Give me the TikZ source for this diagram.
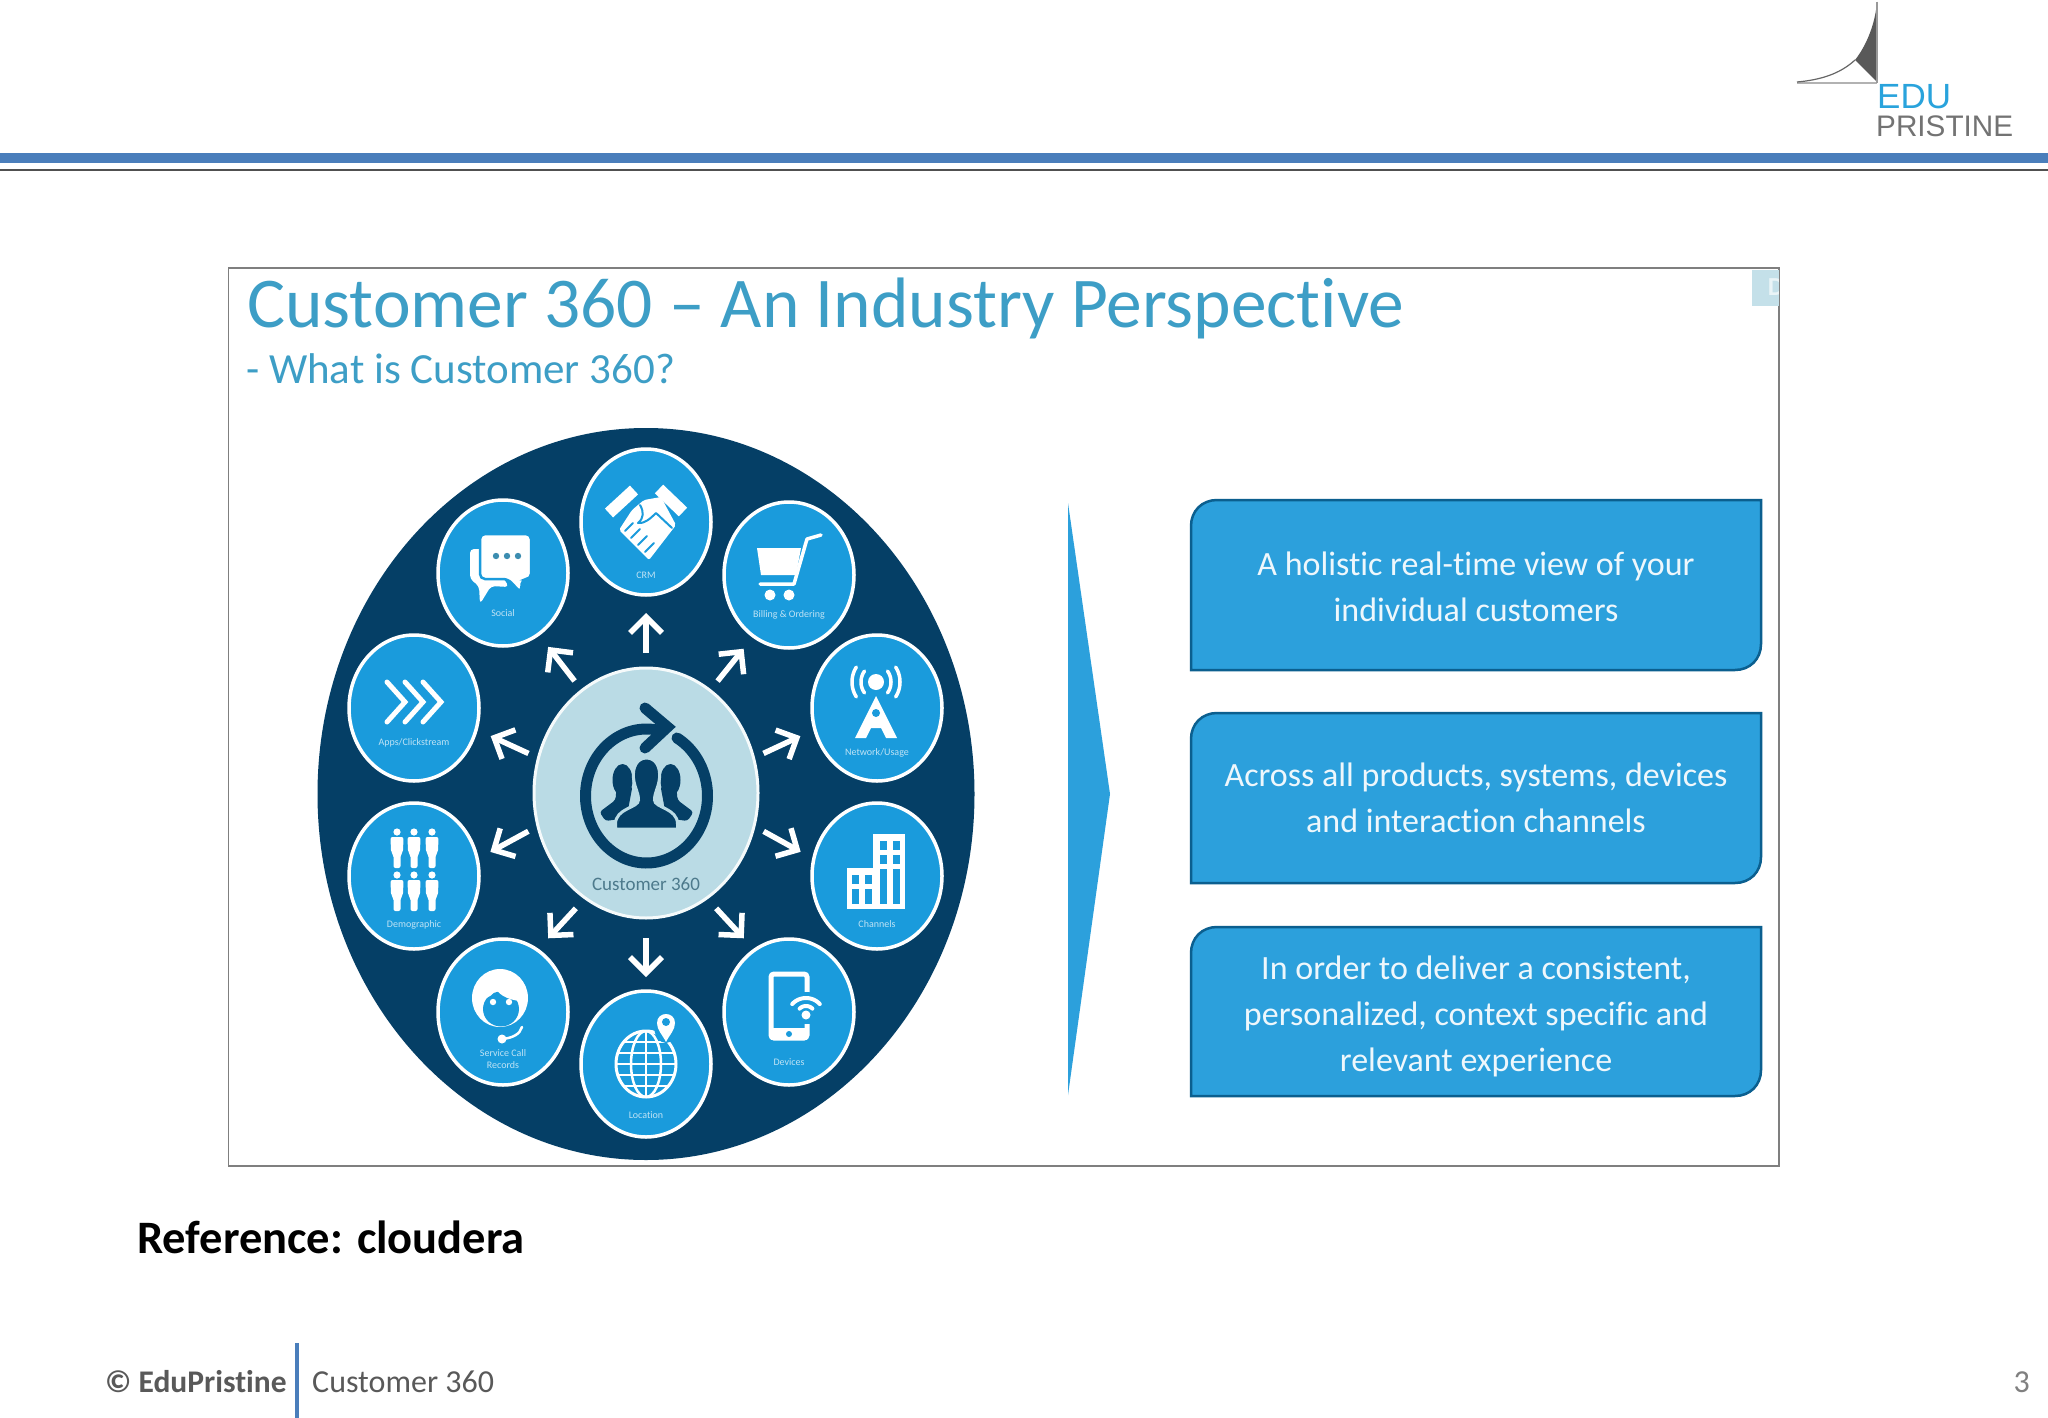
\documentclass[tikz,border=0pt]{standalone}
\usepackage{fontspec}
\setmainfont[Ligatures=NoCommon]{Carlito}
\newfontfamily\logofont{Liberation Sans}
\usetikzlibrary{shapes.geometric,arrows.meta}
\definecolor{navy}{HTML}{053F66}
\definecolor{satblue}{HTML}{1A9BDC}
\definecolor{boxblue}{HTML}{2CA0DC}
\definecolor{boxedge}{HTML}{0B5F8F}
\definecolor{hub}{HTML}{BADBE5}
\definecolor{titleblue}{HTML}{3D9EC6}
\definecolor{hdrblue}{HTML}{4A7EBB}
\definecolor{framegray}{HTML}{7F7F7F}
\definecolor{foot}{HTML}{595959}
\definecolor{logoblue}{HTML}{29A3DC}
\definecolor{labblue}{HTML}{BFE3F5}
\definecolor{hubtext}{HTML}{4D7A8C}
\definecolor{dotblue}{HTML}{3C8DB0}
\tikzset{
  sat/.style={ellipse,draw=white,fill=satblue,line width=3.5pt,minimum width=130pt,minimum height=146pt,inner sep=0pt,outer sep=0pt},
  hubnode/.style={ellipse,fill=hub,draw=white!85!hub,line width=3pt,minimum width=224pt,minimum height=250pt,inner sep=0pt,outer sep=0pt},
  arr/.style={draw=white,line width=5.5pt,-{Straight Barb[length=16pt,width=32pt,line width=5.5pt]}},
  lab/.style={text=labblue,font=\fontsize{10}{11}\selectfont,inner sep=0pt,align=center},
  boxshape/.style={fill=boxblue,draw=boxedge,line width=2.5pt},
  boxtext/.style={text=white!92!boxblue,font=\fontsize{34}{46}\selectfont,align=center,inner sep=0pt},
  ico/.style={draw=white,line width=3.5pt,line cap=round,line join=round},
  icoblue/.style={draw=satblue,line width=2pt,line cap=round,line join=round},
  dempers/.pic={
    \fill[white] (0,0) circle[radius=3.6];
    \fill[white,rounded corners=2pt] (-6.5,5) -- (6.5,5) -- (6,20) -- (3.5,23) -- (3.5,36) -- (-3.5,36) -- (-3.5,23) -- (-6,20) -- cycle;
  }
}
\begin{document}
\begin{tikzpicture}[x=1pt,y=-1pt]
\useasboundingbox (0,0) rectangle (2048,1418);
\fill[white] (0,0) rectangle (2048,1418);
% header
\fill[hdrblue] (0,153) rectangle (2048,163);
\fill[foot!90!black] (0,169) rectangle (2048,171);
% logo
\fill[black!65] (1855,60) .. controls (1866,46) and (1875,25) .. (1877,2) -- (1877,82) -- cycle;
\draw[black!30,line width=2pt] (1797,83) -- (1877,83);
\draw[black!40,line width=1.5pt] (1877,2) -- (1877,83);
\draw[black!60,line width=1.2pt] (1797,82) .. controls (1820,80) and (1840,74) .. (1855,60);
\node[anchor=west,inner sep=0pt,text=logoblue] (logoedu) at (1877,97) {\logofont\fontsize{35}{35}\selectfont EDU};
\node[anchor=west,inner sep=0pt,text=black!55] (logopri) at (1876,126) {\logofont\fontsize{29.7}{31}\selectfont PRISTINE};
% frame
\draw[framegray,line width=1.3pt] (228.5,268) rectangle (1779,1166);
\fill[hub!85!white] (1752,270) rectangle (1778.5,306);
\begin{scope}
\clip (1752,270) rectangle (1778.5,306);
\node[text=white!70!hub,inner sep=0pt,font=\fontsize{26}{26}\selectfont\bfseries] (tag) at (1776,287) {D};
\end{scope}
% titles
\node[anchor=base west,inner sep=0pt,text=titleblue,font=\fontsize{71.4}{72}\selectfont] (title) at (247,327) {Customer 360 – An Industry Perspective};
\node[anchor=base west,inner sep=0pt,text=titleblue,font=\fontsize{43}{44}\selectfont] (subtitle) at (246,383) {- What is Customer 360?};
% wheel
\fill[navy] (646,794) ellipse[x radius=328.5,y radius=366];
\node[hubnode] (hub) at (646,793) {};
\node[sat] (crm) at (646,522) {};
\node[sat] (billing) at (789,575) {};
\node[sat] (network) at (877,708) {};
\node[sat] (channels) at (877,876) {};
\node[sat] (devices) at (789,1012) {};
\node[sat] (location) at (646,1064) {};
\node[sat] (service) at (503,1012) {};
\node[sat] (demo) at (414,876) {};
\node[sat] (apps) at (414,708) {};
\node[sat] (social) at (503,573) {};
% arrows
\draw[arr,shorten <=15pt,shorten >=18pt] (hub.90) -- (crm.270);
\draw[arr,shorten <=12pt,shorten >=16pt] (hub.58) -- (billing.240);
\draw[arr,shorten <=11pt,shorten >=16pt] (hub.18) -- (network.199);
\draw[arr,shorten <=11pt,shorten >=15pt] (hub.-17) -- (channels.165);
\draw[arr,shorten <=14pt,shorten >=16pt] (hub.-60) -- (devices.119);
\draw[arr,shorten <=20pt,shorten >=14pt] (hub.-90) -- (location.90);
\draw[arr,shorten <=14pt,shorten >=16pt] (hub.240) -- (service.61);
\draw[arr,shorten <=11pt,shorten >=15pt] (hub.197) -- (demo.15);
\draw[arr,shorten <=11pt,shorten >=16pt] (hub.162) -- (apps.-19);
\draw[arr,shorten <=12pt,shorten >=16pt] (hub.122) -- (social.300);
% hub icon
\begin{scope}[shift={(646.5,796)}]
  \draw[navy,line width=11pt,line cap=round] plot[domain=60:-285,samples=120] ({61*cos(\x)},{-67*sin(\x)});
  \draw[navy,line width=11pt,line cap=round,line join=miter] (-1.5,-88) -- (21,-69) -- (-1.5,-48);
  \fill[navy,rounded corners=3pt] (-30,-8) -- (-31,4) -- (-47,16) -- (-41,25) -- (-20,22) -- (-14,-10) -- cycle;
  \fill[navy,rounded corners=3pt] (30,-8) -- (31,4) -- (47,16) -- (41,25) -- (20,22) -- (14,-10) -- cycle;
  \fill[navy] (-24,-16) ellipse[x radius=10,y radius=16];
  \fill[navy] (24,-16) ellipse[x radius=10,y radius=16];
  \filldraw[fill=navy,draw=hub,line width=3pt] (0,-38) .. controls (10,-38) and (14,-28) .. (13,-18) .. controls (12,-8) and (8,-4) .. (8,4) .. controls (8,12) and (31,12) .. (31,28) -- (31,33) -- (-31,33) -- (-31,28) .. controls (-31,12) and (-8,12) .. (-8,4) .. controls (-8,-4) and (-12,-8) .. (-13,-18) .. controls (-14,-28) and (-10,-38) .. (0,-38) -- cycle;
\end{scope}
\node[inner sep=0pt,text=hubtext,font=\fontsize{19}{20}\selectfont] (hublab) at (646,884) {Customer 360};
% CRM
\begin{scope}[shift={(crm)}]
  \draw[white,line width=12pt] (-37,-9) -- (-12,-32);
  \draw[white,line width=12pt] (13,-33) -- (37,-10);
  \fill[white,rounded corners=2pt] (-27,8) -- (-14,-12) -- (-2,-22) -- (15,-25) -- (30,3) -- (3,38) -- cycle;
  \draw[icoblue] (-6,-17) .. controls (-2,-10) and (-2,-4) .. (-8,1) .. controls (-2,2) and (4,-3) .. (10,-9) -- (26,6);
  \draw[icoblue] (-21,9) -- (-13,1);
  \draw[icoblue] (-15,16) -- (-6,7);
  \draw[icoblue] (-8,23) -- (1,14);
  \draw[icoblue] (-1,30) -- (8,21);
  \node[lab] (crmlab) at (0,53) {CRM};
\end{scope}
% Billing
\begin{scope}[shift={(billing)}]
  \fill[white] (-32,-27) -- (12,-27) -- (7,0) -- (-28,0) -- cycle;
  \draw[ico] (-29,9) -- (5,9) -- (18,-36) -- (32,-40);
  \fill[white] (-19,20) circle[radius=5.5];
  \fill[white] (0,20) circle[radius=5.5];
  \node[lab] (billab) at (0,40) {Billing \& Ordering};
\end{scope}
% Network
\begin{scope}[shift={(network)}]
  \fill[white] (-1,-26) circle[radius=8];
  \draw[ico] plot[domain=140:220,samples=15] ({-1+15*cos(\x)},{-26-17*sin(\x)});
  \draw[ico] plot[domain=-40:40,samples=15] ({-1+15*cos(\x)},{-26-17*sin(\x)});
  \draw[ico] plot[domain=145:215,samples=15] ({-1+24*cos(\x)},{-26-26*sin(\x)});
  \draw[ico] plot[domain=-35:35,samples=15] ({-1+24*cos(\x)},{-26-26*sin(\x)});
  \fill[white] (-1,-12) -- (-22,30) -- (-11,30) -- (-6,20) -- (4,20) -- (9,30) -- (20,30) -- cycle;
  \fill[satblue] (-1,5) circle[radius=4];
  \node[lab] (netlab) at (0,45) {Network/Usage};
\end{scope}
% Channels
\begin{scope}[shift={(channels)}]
  \fill[white] (-4,-42) rectangle (28,33);
  \fill[white] (-30,-8) rectangle (-4,33);
  \foreach \wx in {3,16}{\foreach \wy in {-35,-21,-7,7}{\fill[satblue] (\wx,\wy) rectangle ++(7,9);}}
  \foreach \wx in {-25,-12,3,16}{\fill[satblue] (\wx,-1) rectangle ++(6.5,9); \fill[satblue] (\wx,13) rectangle ++(6.5,15);}
  \node[lab] (chanlab) at (0,48) {Channels};
\end{scope}
% Devices
\begin{scope}[shift={(devices)}]
  \draw[white,line width=5pt,rounded corners=3pt] (-18,-38) rectangle (18,26);
  \fill[white] (-18,16) rectangle (18,28);
  \fill[satblue] (0,22) circle[radius=3];
  \fill[satblue] (17,-4) ellipse[x radius=24,y radius=16];
  \draw[ico,line width=4pt] plot[domain=45:135,samples=15] ({17+9*cos(\x)},{3-9*sin(\x)});
  \draw[ico,line width=4pt] plot[domain=40:140,samples=15] ({17+18*cos(\x)},{3-17*sin(\x)});
  \fill[white] (17,3) circle[radius=4.5];
  \node[lab] (devlab) at (0,50) {Devices};
\end{scope}
% Location
\begin{scope}[shift={(location)}]
  \begin{scope}
    \clip (0,0) ellipse[x radius=30,y radius=33];
    \foreach \ly in {-22,-11,0,11,22}{\draw[white,line width=2.5pt] (-32,\ly) -- (32,\ly);}
    \draw[white,line width=2.5pt] (0,0) ellipse[x radius=15,y radius=33];
    \draw[white,line width=2.5pt] (0,-33) -- (0,33);
  \end{scope}
  \draw[white,line width=3pt] (0,0) ellipse[x radius=30,y radius=33];
  \fill[satblue] (20,-38) ellipse[x radius=12,y radius=17];
  \fill[white] (20,-22) .. controls (16,-30) and (11,-34) .. (11,-41) .. controls (11,-53) and (29,-53) .. (29,-41) .. controls (29,-34) and (24,-30) .. (20,-22) -- cycle;
  \fill[satblue] (20,-42) circle[radius=4];
  \node[lab] (loclab) at (0,51) {Location};
\end{scope}
% Service
\begin{scope}[shift={(service)}]
  \fill[white] (-3,-14) ellipse[x radius=28,y radius=29];
  \fill[satblue] (-2,-3) ellipse[x radius=18,y radius=17.5];
  \fill[white] (-21,-13) .. controls (-14,-14) and (-9,-18) .. (-7,-23) .. controls (-2,-15) and (8,-12) .. (17,-11) -- (14,-26) -- (-14,-26) -- cycle;
  \fill[white] (-10,-10) circle[radius=3.2];
  \fill[white] (6,-10) circle[radius=3.2];
  \draw[ico,line width=2.5pt] (19,15) .. controls (17,22) and (10,26) .. (-1,27);
  \fill[white] (-1,27) circle[radius=4.5];
  \node[lab,font=\fontsize{10}{12}\selectfont] (svclab) at (0,47) {Service Call\\Records};
\end{scope}
% Demographic
\begin{scope}[shift={(demo)}]
  \foreach \px in {-17,0,18}{
    \pic at (\px,-44) {dempers};
    \pic at (\px,-1) {dempers};
  }
  \node[lab] (demlab) at (0,49) {Demographic};
\end{scope}
% Apps
\begin{scope}[shift={(apps)}]
  \foreach \cx in {-27,-9,9}{\draw[white,line width=5pt,line cap=round,line join=miter] (\cx,-26) -- (\cx+18,-6) -- (\cx,14);}
  \node[lab] (applab) at (0,35) {Apps/Clickstream};
\end{scope}
% Social
\begin{scope}[shift={(social)}]
  \fill[white,rounded corners=4pt] (-33,-24) -- (-18,-24) -- (6,14) -- (-12,13) -- (-23,31) -- (-24,13) -- (-33,6) -- cycle;
  \filldraw[fill=white,draw=satblue,line width=2.5pt,rounded corners=5pt] (-23,-39) -- (28,-39) -- (28,6) -- (19,6) -- (18,20) -- (5,6) -- (-23,6) -- cycle;
  \foreach \dx in {-7,4,15}{\fill[dotblue] (\dx,-17) circle[radius=3.2];}
  \node[lab] (soclab) at (0,40) {Social};
\end{scope}
% chevron
\fill[boxblue] (1068,503) -- (1110,794) -- (1068,1095) -- cycle;
% boxes
\draw[boxshape] (1191,670) -- (1191,526) .. controls (1191,511) and (1202,500) .. (1217,500) -- (1761,500) -- (1761,644) .. controls (1761,659) and (1750,670) .. (1735,670) -- cycle;
\node[boxtext] (box1) at (1476,587) {A holistic real-time view of your\\individual customers};
\draw[boxshape] (1191,883) -- (1191,739) .. controls (1191,724) and (1202,713) .. (1217,713) -- (1761,713) -- (1761,857) .. controls (1761,872) and (1750,883) .. (1735,883) -- cycle;
\node[boxtext] (box2) at (1476,798) {Across all products, systems, devices\\and interaction channels};
\draw[boxshape] (1191,1096) -- (1191,953) .. controls (1191,938) and (1202,927) .. (1217,927) -- (1761,927) -- (1761,1070) .. controls (1761,1085) and (1750,1096) .. (1735,1096) -- cycle;
\node[boxtext] (box3) at (1476,1016) {In order to deliver a consistent,\\personalized, context specific and\\relevant experience};
% reference + footer
\node[anchor=base west,inner sep=0pt,text=black,font=\fontsize{46.5}{46}\selectfont\bfseries] (ref) at (137,1253) {Reference: cloudera};
\node[anchor=base west,inner sep=0pt,text=foot,font=\fontsize{31.5}{32}\selectfont\bfseries] (copy) at (105,1392) {© EduPristine};
\draw[hdrblue,line width=4pt] (296.5,1343) -- (296.5,1418);
\node[anchor=base west,inner sep=0pt,text=foot,font=\fontsize{32}{32}\selectfont] (foottitle) at (312,1392) {Customer 360};
\node[anchor=base east,inner sep=0pt,text=black!50,font=\fontsize{32}{32}\selectfont] (pageno) at (2030,1392) {3};
\end{tikzpicture}
\end{document}
